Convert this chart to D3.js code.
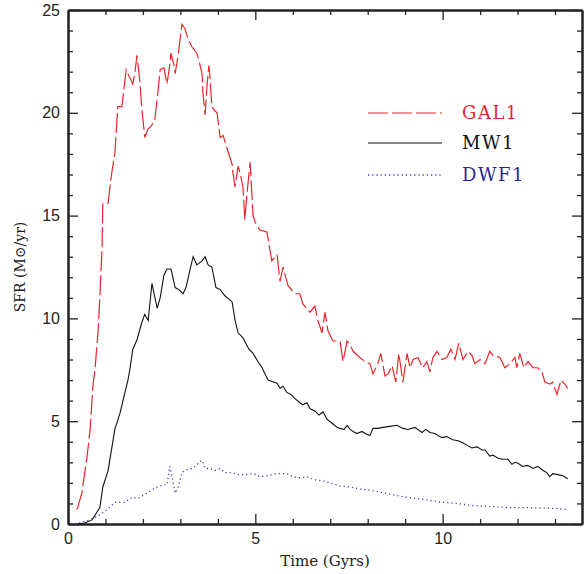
<!DOCTYPE html>
<html>
<head>
<meta charset="utf-8">
<script src="https://cdn.jsdelivr.net/npm/d3@7"></script>
<style>
  body { margin: 0; background: #fff; }
  .tick text { font-family: "Liberation Sans", Arial, sans-serif; font-size: 16px; fill: #222; }
  .axis path { stroke: #222; stroke-width: 2; }
  .axis line { stroke: #222; stroke-width: 1.3; }
</style>
</head>
<body>
<script>
// series names and colours
var seriesNames = ["GAL1", "MW1", "DWF1"];

// time (Gyrs) and SFR values
var galTime = [0.24, 0.37, 0.51, 0.59, 0.67, 0.72, 0.80, 0.85, 0.91, 0.93, 1.07, 1.12, 1.17, 1.25, 1.33, 1.44, 1.55, 1.65, 1.73, 1.79, 1.84, 1.92, 1.97, 2.05, 2.13, 2.24, 2.32, 2.40, 2.46, 2.56, 2.64, 2.70, 2.75, 2.83, 2.86, 2.94, 3.04, 3.12, 3.20, 3.31, 3.44, 3.50, 3.58, 3.60, 3.66, 3.71, 3.76, 3.79, 3.84, 3.92, 3.98, 4.06, 4.14, 4.24, 4.38, 4.40, 4.46, 4.54, 4.59, 4.67, 4.72, 4.78, 4.86, 4.94, 4.99, 5.12, 5.31, 5.44, 5.58, 5.66, 5.74, 5.87, 6.06, 6.19, 6.27, 6.46, 6.59, 6.67, 6.78, 6.86, 6.94, 7.07, 7.18, 7.26, 7.34, 7.45, 7.53, 7.61, 7.79, 7.93, 8.06, 8.14, 8.27, 8.35, 8.46, 8.54, 8.65, 8.75, 8.83, 8.94, 9.05, 9.13, 9.21, 9.34, 9.47, 9.58, 9.66, 9.74, 9.85, 9.98, 10.11, 10.22, 10.33, 10.43, 10.54, 10.68, 10.78, 10.86, 11.00, 11.13, 11.26, 11.34, 11.53, 11.66, 11.80, 11.93, 11.98, 12.06, 12.17, 12.28, 12.41, 12.54, 12.65, 12.73, 12.86, 12.94, 13.05, 13.16, 13.26, 13.34];
var galSfr = [0.7, 1.5, 3.3, 4.6, 6.8, 7.5, 9.3, 11.0, 13.5, 15.6, 15.6, 16.4, 17.1, 18.0, 20.3, 20.3, 22.1, 21.7, 21.4, 22.0, 22.8, 21.5, 20.2, 18.8, 19.2, 19.4, 19.7, 21.0, 22.1, 22.2, 21.4, 22.1, 22.9, 22.3, 21.9, 22.8, 24.3, 24.1, 23.6, 23.2, 22.9, 22.5, 21.9, 21.0, 19.9, 21.3, 22.3, 21.7, 20.3, 20.1, 20.0, 18.8, 18.9, 18.3, 17.5, 17.1, 16.4, 17.4, 17.1, 16.4, 14.8, 16.1, 17.6, 15.0, 14.7, 14.3, 14.2, 12.8, 13.1, 11.8, 12.5, 11.6, 11.2, 11.2, 10.7, 10.3, 10.6, 9.9, 9.3, 10.3, 9.4, 8.9, 8.9, 8.9, 7.9, 8.9, 8.7, 8.4, 8.1, 7.9, 7.8, 7.3, 7.8, 8.3, 7.2, 7.3, 7.7, 6.9, 8.3, 6.9, 8.3, 7.6, 8.0, 8.1, 7.6, 7.9, 7.4, 8.1, 8.4, 8.0, 8.1, 8.5, 8.0, 8.8, 8.0, 8.4, 8.2, 7.8, 8.0, 7.8, 8.4, 8.2, 8.1, 7.6, 7.8, 8.1, 7.6, 8.3, 7.6, 7.9, 7.6, 7.6, 7.4, 6.9, 6.8, 6.9, 6.3, 7.0, 6.8, 6.6];

var mwTime = [0.24, 0.45, 0.64, 0.85, 0.93, 1.07, 1.25, 1.39, 1.52, 1.60, 1.65, 1.73, 1.84, 1.97, 2.05, 2.14, 2.24, 2.38, 2.46, 2.56, 2.64, 2.75, 2.86, 2.96, 3.07, 3.15, 3.26, 3.34, 3.44, 3.58, 3.66, 3.74, 3.84, 3.95, 4.06, 4.19, 4.38, 4.46, 4.54, 4.67, 4.83, 4.94, 5.07, 5.18, 5.26, 5.34, 5.58, 5.66, 5.74, 5.84, 5.95, 6.06, 6.19, 6.27, 6.38, 6.46, 6.59, 6.70, 6.81, 6.91, 7.05, 7.18, 7.26, 7.37, 7.45, 7.53, 7.61, 7.71, 7.85, 7.93, 8.06, 8.14, 8.27, 8.41, 8.59, 8.78, 8.94, 9.07, 9.26, 9.45, 9.55, 9.66, 9.79, 9.98, 10.11, 10.27, 10.41, 10.54, 10.68, 10.78, 10.92, 11.05, 11.13, 11.26, 11.34, 11.48, 11.61, 11.74, 11.85, 11.93, 12.01, 12.14, 12.25, 12.33, 12.41, 12.54, 12.68, 12.78, 12.86, 12.94, 13.08, 13.21, 13.34];
var mwSfr = [0.0, 0.05, 0.2, 0.8, 1.8, 2.6, 4.6, 5.4, 6.4, 7.0, 7.5, 8.5, 8.95, 9.8, 10.2, 9.9, 11.7, 10.5, 11.0, 12.1, 12.4, 12.4, 11.5, 11.4, 11.2, 11.5, 12.4, 13.0, 12.6, 12.8, 13.0, 12.6, 12.5, 11.5, 11.4, 11.1, 10.8, 9.9, 9.3, 9.05, 8.5, 8.3, 7.9, 7.6, 7.3, 7.0, 6.85, 6.6, 6.7, 6.4, 6.3, 6.1, 5.9, 5.8, 5.9, 5.6, 5.5, 5.3, 5.45, 5.1, 4.9, 4.7, 4.65, 4.6, 4.8, 4.6, 4.5, 4.4, 4.5, 4.4, 4.3, 4.65, 4.65, 4.7, 4.75, 4.8, 4.65, 4.6, 4.7, 4.45, 4.6, 4.45, 4.4, 4.2, 4.25, 4.1, 4.05, 3.95, 3.8, 3.7, 3.75, 3.6, 3.6, 3.3, 3.35, 3.2, 3.15, 3.15, 2.9, 3.0, 2.95, 2.8, 2.85, 2.8, 2.7, 2.8, 2.6, 2.5, 2.3, 2.45, 2.4, 2.35, 2.2];

var dwfTime = [0.19, 0.59, 0.85, 1.04, 1.25, 1.52, 1.71, 1.87, 2.11, 2.32, 2.54, 2.64, 2.72, 2.78, 2.86, 2.94, 3.04, 3.18, 3.34, 3.47, 3.58, 3.66, 3.79, 3.92, 4.06, 4.19, 4.38, 4.54, 4.72, 4.94, 5.12, 5.34, 5.58, 5.84, 6.00, 6.19, 6.38, 6.59, 6.81, 6.99, 7.26, 7.53, 7.79, 8.06, 8.33, 8.59, 8.86, 9.05, 9.47, 9.93, 10.38, 10.81, 11.26, 11.72, 12.14, 12.60, 13.05, 13.34];
var dwfSfr = [0.0, 0.2, 0.45, 0.7, 1.05, 1.05, 1.3, 1.25, 1.5, 1.75, 1.9, 1.9, 2.8, 2.3, 1.5, 1.8, 2.5, 2.65, 2.7, 2.95, 3.1, 2.7, 2.7, 2.6, 2.7, 2.5, 2.5, 2.4, 2.4, 2.45, 2.3, 2.35, 2.45, 2.45, 2.3, 2.25, 2.3, 2.15, 2.1, 2.0, 1.85, 1.8, 1.7, 1.65, 1.55, 1.45, 1.35, 1.3, 1.2, 1.07, 1.0, 0.9, 0.85, 0.8, 0.8, 0.78, 0.75, 0.7];

// axis ticks
var xMajorTicks = [0, 5, 10];
var xMinorTicks = [1, 2, 3, 4, 6, 7, 8, 9, 11, 12, 13];
var yMajorTicks = [0, 5, 10, 15, 20, 25];
var yMinorTicks = d3.range(1, 25).filter(d => d % 5 !== 0);

// SVG area
var svgWidth = 588;
var svgHeight = 574;

var margin = { top: 10, right: 6, bottom: 50, left: 68 };
var chartWidth = svgWidth - margin.left - margin.right;
var chartHeight = svgHeight - margin.top - margin.bottom;

var svg = d3.select("body")
  .append("svg")
  .attr("width", svgWidth)
  .attr("height", svgHeight);

var chartGroup = svg.append("g")
  .attr("transform", `translate(${margin.left}, ${margin.top})`);

var xScale = d3.scaleLinear().domain([0, 13.72]).range([0, chartWidth]);
var yScale = d3.scaleLinear().domain([0, 25]).range([chartHeight, 0]);

// minor ticks first (no labels), then major ticks with labels
function addAxis(axis, transform, cls) {
  return chartGroup.append("g")
    .attr("class", "axis " + cls)
    .attr("transform", transform)
    .call(axis);
}

// bottom
addAxis(d3.axisBottom(xScale).tickValues(xMinorTicks).tickSizeInner(-5).tickSizeOuter(0).tickFormat(""),
  `translate(0, ${chartHeight})`, "minor");
addAxis(d3.axisBottom(xScale).tickValues(xMajorTicks).tickSizeInner(-10).tickSizeOuter(0).tickPadding(9).tickFormat(d3.format("d")),
  `translate(0, ${chartHeight})`, "major");
// top
addAxis(d3.axisTop(xScale).tickValues(xMinorTicks).tickSizeInner(-5).tickSizeOuter(0).tickFormat(""),
  "translate(0,0)", "minor");
addAxis(d3.axisTop(xScale).tickValues(xMajorTicks).tickSizeInner(-10).tickSizeOuter(0).tickFormat(""),
  "translate(0,0)", "major");
// left
addAxis(d3.axisLeft(yScale).tickValues(yMinorTicks).tickSizeInner(-5).tickSizeOuter(0).tickFormat(""),
  "translate(0,0)", "minor");
addAxis(d3.axisLeft(yScale).tickValues(yMajorTicks).tickSizeInner(-10).tickSizeOuter(0).tickPadding(8).tickFormat(d3.format("d")),
  "translate(0,0)", "major");
// right
addAxis(d3.axisRight(yScale).tickValues(yMinorTicks).tickSizeInner(-5).tickSizeOuter(0).tickFormat(""),
  `translate(${chartWidth},0)`, "minor");
addAxis(d3.axisRight(yScale).tickValues(yMajorTicks).tickSizeInner(-10).tickSizeOuter(0).tickFormat(""),
  `translate(${chartWidth},0)`, "major");

// lines
var line = d3.line()
  .x(d => xScale(d[0]))
  .y(d => yScale(d[1]));

var series = [
  { name: seriesNames[0], pts: d3.zip(galTime, galSfr), color: "#e8262c", dash: "20,4", width: 1.2 },
  { name: seriesNames[1], pts: d3.zip(mwTime, mwSfr), color: "#111", dash: null, width: 1.1 },
  { name: seriesNames[2], pts: d3.zip(dwfTime, dwfSfr), color: "#3a3ab4", dash: "1.2,3", width: 1.3 }
];

chartGroup.selectAll(".sfr")
  .data(series)
  .enter()
  .append("path")
  .attr("class", "sfr")
  .attr("d", d => line(d.pts))
  .attr("fill", "none")
  .attr("stroke", d => d.color)
  .attr("stroke-width", d => d.width)
  .attr("stroke-dasharray", d => d.dash);

// legend
var legend = svg.append("g");
var legendY = [113, 143, 175];
var textColors = ["#e8262c", "#111", "#2a2a96"];

series.forEach(function (s, i) {
  legend.append("line")
    .attr("x1", 368).attr("x2", 442)
    .attr("y1", legendY[i]).attr("y2", legendY[i])
    .attr("stroke", s.color)
    .attr("stroke-width", s.width)
    .attr("stroke-dasharray", s.dash);
  legend.append("text")
    .attr("x", 462)
    .attr("y", legendY[i] + 6)
    .attr("font-family", "DejaVu Serif, serif")
    .attr("font-size", "18px")
    .attr("letter-spacing", "1.5px")
    .attr("fill", textColors[i])
    .text(s.name);
});

// axis titles
svg.append("text")
  .attr("x", 325)
  .attr("y", 566)
  .attr("text-anchor", "middle")
  .attr("font-family", "DejaVu Serif, serif")
  .attr("font-size", "15px")
  .attr("fill", "#222")
  .text("Time (Gyrs)");

svg.append("text")
  .attr("transform", "translate(25, 267) rotate(-90)")
  .attr("text-anchor", "middle")
  .attr("font-family", "DejaVu Serif, serif")
  .attr("font-size", "14px")
  .attr("fill", "#222")
  .text("SFR (M\u2299/yr)");
</script>
</body>
</html>
